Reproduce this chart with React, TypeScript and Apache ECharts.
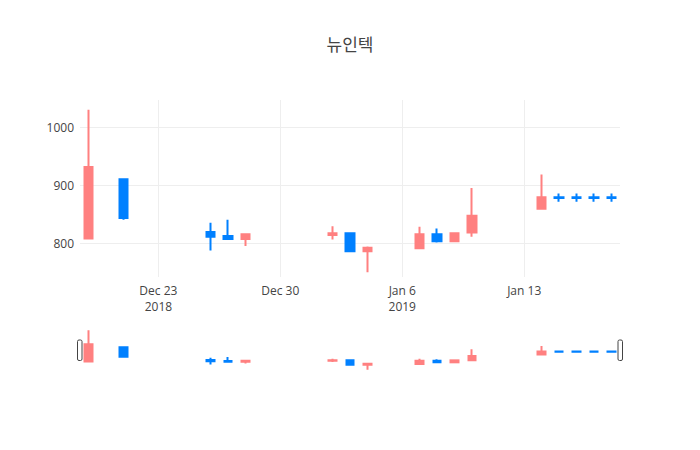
import React, { useEffect, useRef } from "react";
import * as echarts from "echarts";

const dates = [
  "2018-12-19", "2018-12-21", "2018-12-26", "2018-12-27", "2018-12-28",
  "2019-01-02", "2019-01-03", "2019-01-04", "2019-01-07", "2019-01-08",
  "2019-01-09", "2019-01-10", "2019-01-14", "2019-01-15", "2019-01-16",
  "2019-01-17", "2019-01-18",
];
const opens = [808, 910, 819, 812, 807, 814, 817, 786, 791, 815, 803, 818, 859, 879, 879, 879, 879];
const closes = [931, 843, 811, 807, 815, 817, 786, 792, 815, 803, 817, 847, 879, 877.5, 877.5, 877.5, 877.5];
const lows = [807, 840, 787, 806, 795, 806, 785, 749.5, 790, 801, 803, 811, 858, 871, 871, 871, 871];
const highs = [1030, 911, 835, 840, 815, 829, 817, 794, 828, 825, 817, 895, 918, 885.5, 885.5, 885.5, 885.5];

const xTickDates = ["2018-12-23", "2018-12-30", "2019-01-06", "2019-01-13"];
const xTickLabels = ["Dec 23\n2018", "Dec 30", "Jan 6\n2019", "Jan 13"];
const yTicks = [800, 900, 1000];

const epochDate = "2018-12-23";
const xMinDay = -4.5; // Dec 18, 12:00
const xMaxDay = 26.5; // Jan 18, 12:00
const yMin = 741.4;
const yMax = 1046.6;

const UP = "#ff8080";
const DOWN = "#0080ff";

const DAY = 86400000;
const dayOf = (d: string) =>
  Math.round((new Date(d + "T00:00:00Z").getTime() - new Date(epochDate + "T00:00:00Z").getTime()) / DAY);

export default function App() {
  const ref = useRef<HTMLDivElement>(null);
  useEffect(() => {
    document.body.style.margin = "0";
    if (!ref.current) return;
    const chart = echarts.init(ref.current, undefined, { renderer: "svg" });
    const data = dates.map((d, i) => [dayOf(d), opens[i], closes[i], lows[i], highs[i]]);
    const tickVals = xTickDates.map(dayOf);
    const fontFamily = '"Open Sans", "Noto Sans CJK KR", sans-serif';
    const fmt = (v: number) => {
      const i = tickVals.findIndex((t) => Math.abs(t - v) < 1e-6);
      return i >= 0 ? xTickLabels[i] : "";
    };
    chart.setOption({
      animation: false,
      backgroundColor: "#fff",
      title: {
        text: "뉴인텍",
        left: "center",
        top: 31,
        textStyle: { fontFamily, fontSize: 17, fontWeight: "normal", color: "#444" },
      },
      grid: [
        { left: 80, width: 540, top: 100, height: 177, containLabel: false },
        { left: 80, width: 540, top: 328, height: 43, containLabel: false },
      ],
      xAxis: [
        {
          type: "value",
          gridIndex: 0,
          min: xMinDay,
          max: xMaxDay,
          axisLine: { show: false },
          axisTick: { show: false, customValues: tickVals },
          axisLabel: {
            customValues: tickVals,
            formatter: (v: number) => fmt(v),
            color: "#444",
            fontFamily,
            fontSize: 12,
            lineHeight: 16,
            margin: 5,
          },
          splitLine: { show: true, lineStyle: { color: "#eee", width: 1 } },
        },
        {
          type: "value",
          gridIndex: 1,
          min: xMinDay,
          max: xMaxDay,
          axisLine: { show: false },
          axisTick: { show: false },
          axisLabel: { show: false },
          splitLine: { show: false },
        },
      ],
      yAxis: [
        {
          type: "value",
          gridIndex: 0,
          min: yMin,
          max: yMax,
          axisLine: { show: false },
          axisTick: { show: false, customValues: yTicks },
          axisLabel: {
            customValues: yTicks,
            formatter: (v: number) => String(v),
            color: "#444",
            fontFamily,
            fontSize: 12,
            margin: 6,
          },
          splitLine: { show: true, lineStyle: { color: "#eee", width: 1 } },
        },
        {
          type: "value",
          gridIndex: 1,
          min: yMin,
          max: yMax,
          axisLine: { show: false },
          axisTick: { show: false },
          axisLabel: { show: false },
          splitLine: { show: false },
        },
      ],
      series: [
        {
          type: "candlestick",
          xAxisIndex: 0,
          yAxisIndex: 0,
          data,
          encode: { x: 0, y: [1, 2, 3, 4] },
          barWidth: 9,
          itemStyle: { color: UP, color0: DOWN, borderColor: UP, borderColor0: DOWN, borderWidth: 2 },
        },
        {
          type: "candlestick",
          xAxisIndex: 1,
          yAxisIndex: 1,
          data,
          encode: { x: 0, y: [1, 2, 3, 4] },
          barWidth: 8,
          silent: true,
          itemStyle: { color: UP, color0: DOWN, borderColor: UP, borderColor0: DOWN, borderWidth: 2 },
        },
      ],
      graphic: [
        {
          type: "rect",
          shape: { x: 77.5, y: 340, width: 4.5, height: 20.5, r: 1.5 },
          style: { fill: "#fff", stroke: "#444", lineWidth: 1 },
        },
        {
          type: "rect",
          shape: { x: 618, y: 340, width: 4.5, height: 20.5, r: 1.5 },
          style: { fill: "#fff", stroke: "#444", lineWidth: 1 },
        },
      ],
    });
    return () => chart.dispose();
  }, []);
  return (
    <div
      ref={ref}
      style={{ width: 700, height: 450, position: "absolute", left: 0, top: 0 }}
    />
  );
}
